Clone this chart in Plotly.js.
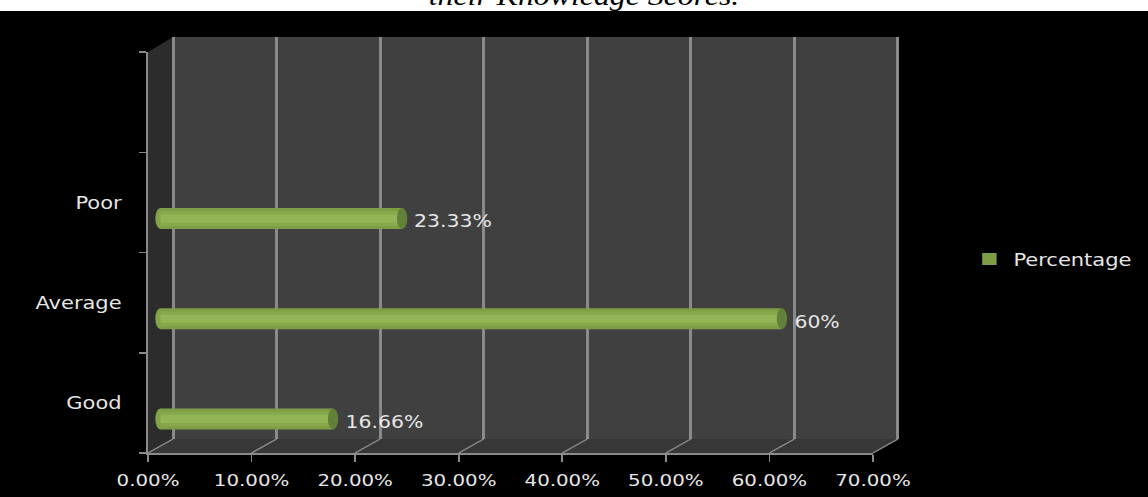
<!DOCTYPE html>
<html><head><meta charset="utf-8">
<script src="https://cdn.plot.ly/plotly-3.0.1.min.js"></script>
<style>
html,body{margin:0;padding:0;background:#000;overflow:hidden;width:1148px;height:497px}
#chart{width:957px;height:497px;transform:scaleX(1.2);transform-origin:0 0}
</style></head><body><div id="chart"></div>
<script>
// ---- data ----
const categories = ['Good', 'Average', 'Poor'];
const percentages = [16.66, 60, 23.33];
const valueLabels = ['16.66%', '60%', '23.33%'];
const xTickValues = [0, 10, 20, 30, 40, 50, 60, 70];
const xTickLabels = ['0.00%', '10.00%', '20.00%', '30.00%', '40.00%', '50.00%', '60.00%', '70.00%'];
const seriesName = 'Percentage';
const titleText = 'their Knowledge Scores.';

// ---- layout geometry (unscaled px; page is stretched 1.2x horizontally) ----
const W = 957, H = 497, SX = 1.2;
const fx = p => p / W, fy = p => 1 - p / H;
const frontX0 = 148 / SX, frontX1 = 873 / SX;
const backX0 = 173 / SX, backX1 = 898 / SX;
const barX0 = 160.5 / SX, barX1 = 885.5 / SX;
const frontYb = 453, frontYt = 52, backYb = 439, backYt = 37;
const xMax = 70;
const positions = categories.map((c, i) => i);
const barCenter = -0.16, barThick = 0.21;
const k = (barX1 - barX0) / xMax;
const barRange = [-2, 72];
const barDomain = [fx(barX0 + barRange[0] * k), fx(barX0 + barRange[1] * k)];
const kb = (backX1 - backX0) / xMax;
const backRange = [-0.25, xMax + 0.25];
const backDomain = [fx(backX0 + backRange[0] * kb), fx(backX0 + backRange[1] * kb)];

const gridCol = '#8a8a8a', txtCol = '#e6e6e6';
const fontFam = 'DejaVu Sans, Verdana, sans-serif';

// ---- invisible helper traces so the wall and front-axis subplots exist ----
const traces = [
  {type: 'scatter', mode: 'none', x: percentages, y: positions, xaxis: 'x', yaxis: 'y',
   showlegend: false, hoverinfo: 'skip'},
  {type: 'scatter', mode: 'none', x: percentages, y: positions, xaxis: 'x2', yaxis: 'y2',
   showlegend: false, hoverinfo: 'skip'}
];

// ---- bar traces (layered to suggest a cylinder) ----
const barLayers = [
  {w: barThick, c: '#7d9e44'},
  {w: 0.15, c: '#87a94b'},
  {w: 0.08, c: '#93b556'}
];
barLayers.forEach((L, i) => traces.push({
  type: 'bar', orientation: 'h',
  x: percentages, y: positions,
  xaxis: 'x3', yaxis: 'y2',
  width: L.w, offset: barCenter - L.w / 2,
  marker: {color: L.c, line: {width: 0}},
  name: seriesName, legendgroup: 'p', showlegend: i === 0,
  hoverinfo: 'skip'
}));

// ---- shapes ----
const shapes = [];
// side wall
shapes.push({type: 'path', xref: 'paper', yref: 'paper', layer: 'below',
  path: `M${fx(frontX0)},${fy(frontYb)} L${fx(frontX0)},${fy(frontYt)} L${fx(backX0)},${fy(backYt)} L${fx(backX0)},${fy(backYb)} Z`,
  fillcolor: '#2c2c2c', line: {width: 0}});
// back wall
shapes.push({type: 'rect', xref: 'paper', yref: 'paper', layer: 'below',
  x0: fx(backX0), x1: fx(backX1), y0: fy(backYb), y1: fy(backYt),
  fillcolor: '#404040', line: {width: 0}});
// floor
shapes.push({type: 'path', xref: 'paper', yref: 'paper', layer: 'below',
  path: `M${fx(frontX0)},${fy(frontYb)} L${fx(frontX1)},${fy(frontYb)} L${fx(backX1)},${fy(backYb)} L${fx(backX0)},${fy(backYb)} Z`,
  fillcolor: '#373737', line: {width: 0}});
// floor diagonals
xTickValues.forEach(v => {
  const xf = frontX0 + (frontX1 - frontX0) * v / xMax;
  const xb = backX0 + (backX1 - backX0) * v / xMax;
  shapes.push({type: 'line', xref: 'paper', yref: 'paper', layer: 'below',
    x0: fx(xf), y0: fy(frontYb), x1: fx(xb), y1: fy(backYb),
    line: {color: gridCol, width: 1.5}});
});
// white strip at top
shapes.push({type: 'rect', xref: 'paper', yref: 'paper', layer: 'below',
  x0: 0, x1: 1, y0: fy(11), y1: 1, fillcolor: '#ffffff', line: {width: 0}});
// cylinder caps
const capHalf = 0.5;
percentages.forEach((v, i) => {
  const yc = positions[i] + barCenter;
  shapes.push({type: 'circle', xref: 'x3', yref: 'y2', layer: 'below',
    x0: -capHalf, x1: capHalf, y0: yc - barThick / 2, y1: yc + barThick / 2,
    fillcolor: '#82a347', line: {width: 0}});
  shapes.push({type: 'circle', xref: 'x3', yref: 'y2', layer: 'above',
    x0: v - capHalf, x1: v + capHalf, y0: yc - barThick / 2, y1: yc + barThick / 2,
    fillcolor: '#62803a', line: {width: 0}});
});

// ---- data labels ----
const annotations = percentages.map((v, i) => ({
  xref: 'x3', yref: 'y2', x: v, y: positions[i] + barCenter,
  text: valueLabels[i], showarrow: false, xanchor: 'left', yanchor: 'middle',
  xshift: 8, yshift: -3,
  font: {family: fontFam, size: 17, color: txtCol}
}));

const layout = {
  width: W, height: H,
  margin: {l: 0, r: 0, t: 0, b: 0},
  paper_bgcolor: '#000000', plot_bgcolor: 'rgba(0,0,0,0)',
  barmode: 'overlay',
  title: {text: titleText, xref: 'container', yref: 'container',
    x: fx(486.7), xanchor: 'center', y: fy(5), yanchor: 'bottom',
    font: {family: 'Liberation Serif, Times New Roman, serif', size: 26.5, color: '#000', style: 'italic'}},
  showlegend: true,
  legend: {x: fx(804.5), xanchor: 'left', y: fy(259), yanchor: 'middle',
    bgcolor: 'rgba(0,0,0,0)', font: {family: fontFam, size: 17.5, color: txtCol}},
  // back wall gridlines
  xaxis: {visible: true, domain: backDomain, anchor: 'y', range: backRange,
    tickmode: 'array', tickvals: xTickValues, showticklabels: false, ticks: '',
    showgrid: true, gridcolor: gridCol, gridwidth: 2.5, zeroline: false, showline: false, fixedrange: true},
  yaxis: {visible: true, domain: [fy(backYb), fy(backYt)], anchor: 'x', range: [10, 11],
    showgrid: false, zeroline: false, showline: false, showticklabels: false, ticks: '', fixedrange: true},
  // front axes
  xaxis2: {visible: true, domain: [fx(frontX0), fx(frontX1)], anchor: 'y2', range: [0, xMax],
    tickmode: 'array', tickvals: xTickValues, ticktext: xTickLabels,
    ticks: 'outside', ticklen: 7, tickwidth: 1.5, tickcolor: gridCol,
    showline: true, linecolor: gridCol, linewidth: 1.5,
    showgrid: false, zeroline: false, ticklabelstandoff: 5,
    tickfont: {family: fontFam, size: 16.5, color: txtCol}, fixedrange: true},
  yaxis2: {visible: true, domain: [fy(frontYb), fy(frontYt)], anchor: 'x2', range: [-0.5, 3.5],
    tickmode: 'array', tickvals: positions, ticktext: categories,
    ticks: 'outside', ticklen: 17, tickcolor: 'rgba(0,0,0,0)',
    minor: {tickmode: 'array', tickvals: [-0.5, 0.5, 1.5, 2.5, 3.5], ticks: 'outside', ticklen: 6, tickwidth: 1.5, tickcolor: gridCol, showgrid: false},
    showline: true, linecolor: gridCol, linewidth: 1.5,
    showgrid: false, zeroline: false,
    tickfont: {family: fontFam, size: 17.5, color: txtCol}, fixedrange: true},
  // bar axis (mid-depth)
  xaxis3: {domain: barDomain, anchor: 'y2', range: barRange, visible: false, fixedrange: true},
  shapes: shapes,
  annotations: annotations
};

Plotly.newPlot('chart', traces, layout, {staticPlot: true, displayModeBar: false});
</script></body></html>
